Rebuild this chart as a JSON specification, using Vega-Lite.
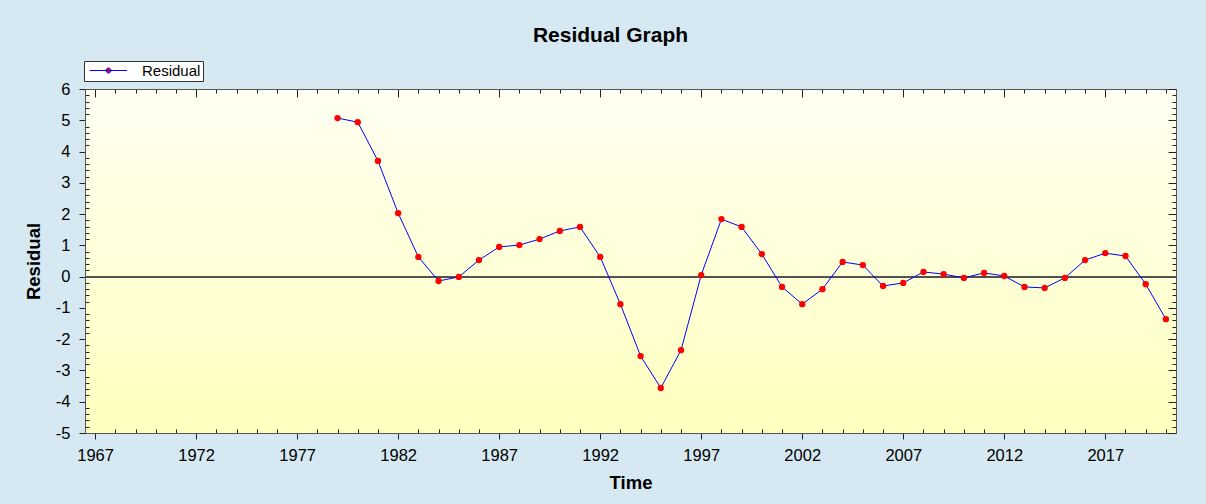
{
  "$schema": "https://vega.github.io/schema/vega-lite/v6.json",
  "width": 1091,
  "height": 344,
  "autosize": {"type": "none"},
  "padding": {"left": 85, "top": 89, "right": 30, "bottom": 71},
  "background": "#d6e9f2",
  "title": {"text": "Residual Graph", "font": "Liberation Sans", "fontSize": 21, "fontWeight": "bold", "color": "#000000", "anchor": "middle", "frame": "group", "offset": 15, "dx": -20},
  "config": {
    "view": {"stroke": "#555555", "strokeWidth": 1, "fill": {"gradient": "linear", "x1": 0, "y1": 0, "x2": 0, "y2": 1, "stops": [{"offset": 0, "color": "#fffff2"}, {"offset": 1, "color": "#ffffbe"}]}},
    "axis": {"grid": false, "domainColor": "#555555", "tickColor": "#222222", "labelFont": "Liberation Sans", "labelFontSize": 16.5, "labelColor": "#000000", "titleFont": "Liberation Sans", "titleFontSize": 18.5, "titleFontWeight": "bold", "titleColor": "#000000", "labelOverlap": false, "labelFlush": false}
  },
  "data": {"values": [
    {"year": 1979, "residual": 5.07},
    {"year": 1980, "residual": 4.94},
    {"year": 1981, "residual": 3.70},
    {"year": 1982, "residual": 2.03},
    {"year": 1983, "residual": 0.63},
    {"year": 1984, "residual": -0.14},
    {"year": 1985, "residual": -0.01},
    {"year": 1986, "residual": 0.53},
    {"year": 1987, "residual": 0.95},
    {"year": 1988, "residual": 1.01},
    {"year": 1989, "residual": 1.20},
    {"year": 1990, "residual": 1.46},
    {"year": 1991, "residual": 1.59},
    {"year": 1992, "residual": 0.63},
    {"year": 1993, "residual": -0.88},
    {"year": 1994, "residual": -2.54},
    {"year": 1995, "residual": -3.56},
    {"year": 1996, "residual": -2.35},
    {"year": 1997, "residual": 0.05},
    {"year": 1998, "residual": 1.84},
    {"year": 1999, "residual": 1.59},
    {"year": 2000, "residual": 0.72},
    {"year": 2001, "residual": -0.33},
    {"year": 2002, "residual": -0.88},
    {"year": 2003, "residual": -0.40},
    {"year": 2004, "residual": 0.47},
    {"year": 2005, "residual": 0.37},
    {"year": 2006, "residual": -0.30},
    {"year": 2007, "residual": -0.20},
    {"year": 2008, "residual": 0.15},
    {"year": 2009, "residual": 0.08},
    {"year": 2010, "residual": -0.04},
    {"year": 2011, "residual": 0.12},
    {"year": 2012, "residual": 0.02},
    {"year": 2013, "residual": -0.33},
    {"year": 2014, "residual": -0.36},
    {"year": 2015, "residual": -0.04},
    {"year": 2016, "residual": 0.53},
    {"year": 2017, "residual": 0.75},
    {"year": 2018, "residual": 0.66},
    {"year": 2019, "residual": -0.24},
    {"year": 2020, "residual": -1.36}
  ]},
  "layer": [
    {
      "encoding": {
        "x": {"field": "year", "type": "quantitative", "scale": {"domain": [1966.5, 2020.5], "nice": false, "zero": false},
          "axis": {"orient": "bottom", "title": "Time", "titlePadding": 10,
            "values": [1967,1968,1969,1970,1971,1972,1973,1974,1975,1976,1977,1978,1979,1980,1981,1982,1983,1984,1985,1986,1987,1988,1989,1990,1991,1992,1993,1994,1995,1996,1997,1998,1999,2000,2001,2002,2003,2004,2005,2006,2007,2008,2009,2010,2011,2012,2013,2014,2015,2016,2017,2018,2019,2020],
            "labelExpr": "datum.value % 5 === 2 ? toString(datum.value) : ''",
            "tickSize": {"condition": {"test": "datum.value % 5 === 2", "value": 6}, "value": -4},
            "labelPadding": 8}},
        "y": {"field": "residual", "type": "quantitative", "scale": {"domain": [-5, 6], "nice": false, "zero": false},
          "axis": {"orient": "left", "title": "Residual", "titlePadding": 12,
            "values": [-5,-4.8,-4.6,-4.4,-4.2,-4,-3.8,-3.6,-3.4,-3.2,-3,-2.8,-2.6,-2.4,-2.2,-2,-1.8,-1.6,-1.4,-1.2,-1,-0.8,-0.6,-0.4,-0.2,0,0.2,0.4,0.6,0.8,1,1.2,1.4,1.6,1.8,2,2.2,2.4,2.6,2.8,3,3.2,3.4,3.6,3.8,4,4.2,4.4,4.6,4.8,5,5.2,5.4,5.6,5.8,6],
            "labelExpr": "abs(datum.value - round(datum.value)) < 0.01 ? toString(round(datum.value)) : ''",
            "tickSize": {"condition": {"test": "abs(datum.value - round(datum.value)) < 0.01", "value": 6}, "value": -4},
            "labelPadding": 9}}
      },
      "layer": [
        {"mark": {"type": "rule", "color": "#555555", "strokeWidth": 1}, "encoding": {"y": {"datum": 0}, "x": {"value": 0}, "x2": {"value": 1091}}},
        {"mark": {"type": "line", "strokeWidth": 1},
          "encoding": {"color": {"datum": "Residual", "type": "nominal",
            "scale": {"range": ["#0000ff"]},
            "legend": {"title": null, "orient": "none", "legendX": -1, "legendY": -28,
              "symbolType": "M-3,0L3,0M0.4,0A0.4,0.4,0,1,1,-0.4,0A0.4,0.4,0,1,1,0.4,0Z",
              "symbolSize": 154, "symbolOffset": 15, "symbolFillColor": "#ff0000", "symbolStrokeColor": "#0000ff", "symbolStrokeWidth": 1,
              "labelFont": "Liberation Sans", "labelFontSize": 15, "labelColor": "#000000",
              "fillColor": "#ffffff", "strokeColor": "#333333", "padding": 2, "labelOffset": 26}}}},
        {"mark": {"type": "point", "filled": true, "color": "#ff0000", "size": 40, "opacity": 1}}
      ]
    },
    {
      "mark": {"type": "point", "opacity": 0},
      "encoding": {
        "x": {"field": "year", "type": "quantitative", "scale": {"domain": [1966.5, 2020.5], "nice": false, "zero": false},
          "axis": {"orient": "top", "title": null, "labels": false,
            "values": [1967,1968,1969,1970,1971,1972,1973,1974,1975,1976,1977,1978,1979,1980,1981,1982,1983,1984,1985,1986,1987,1988,1989,1990,1991,1992,1993,1994,1995,1996,1997,1998,1999,2000,2001,2002,2003,2004,2005,2006,2007,2008,2009,2010,2011,2012,2013,2014,2015,2016,2017,2018,2019,2020],
            "tickSize": {"condition": {"test": "datum.value % 5 === 2", "value": -8}, "value": -4}}},
        "y": {"field": "residual", "type": "quantitative", "scale": {"domain": [-5, 6], "nice": false, "zero": false},
          "axis": {"orient": "right", "title": null, "labels": false,
            "values": [-5,-4.8,-4.6,-4.4,-4.2,-4,-3.8,-3.6,-3.4,-3.2,-3,-2.8,-2.6,-2.4,-2.2,-2,-1.8,-1.6,-1.4,-1.2,-1,-0.8,-0.6,-0.4,-0.2,0,0.2,0.4,0.6,0.8,1,1.2,1.4,1.6,1.8,2,2.2,2.4,2.6,2.8,3,3.2,3.4,3.6,3.8,4,4.2,4.4,4.6,4.8,5,5.2,5.4,5.6,5.8,6],
            "tickSize": {"condition": {"test": "abs(datum.value - round(datum.value)) < 0.01", "value": -8}, "value": -4}}}
      }
    }
  ],
  "resolve": {"scale": {"x": "independent", "y": "independent"}, "axis": {"x": "independent", "y": "independent"}}
}
